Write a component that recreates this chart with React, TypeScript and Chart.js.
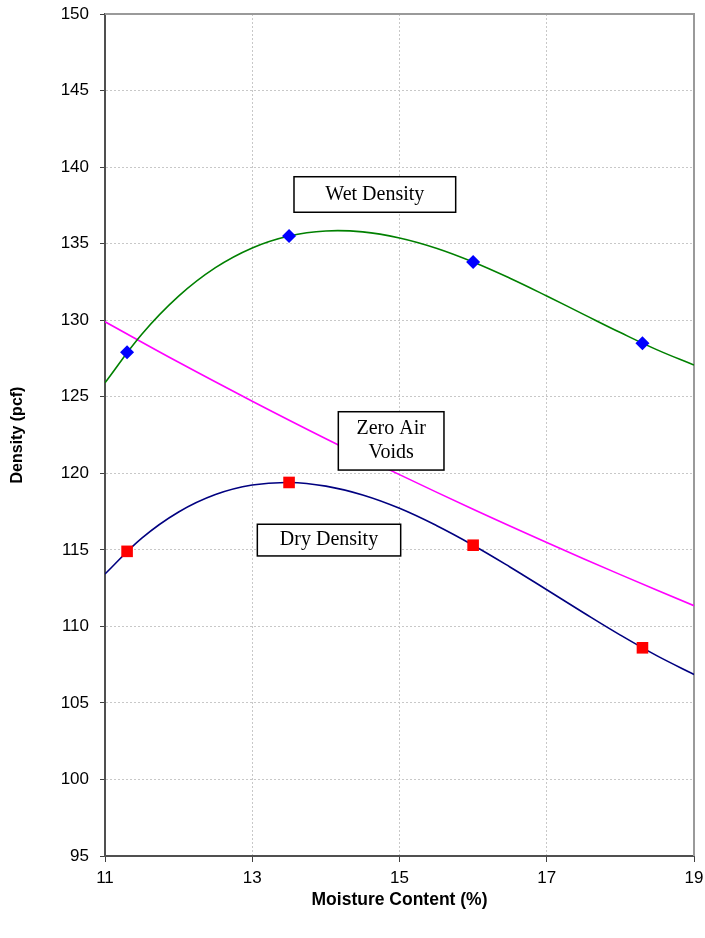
import React, { useEffect, useRef } from "react";
import { Chart, registerables } from "chart.js";

Chart.register(...registerables);

// Measured points
const moisture = [11.3, 13.5, 16.0, 18.3];
const wetDensity = [127.9, 135.5, 133.8, 128.5];
const dryDensity = [114.9, 119.4, 115.3, 108.6];

// Fitted curves
const curveMoisture = [11, 11.5, 12, 12.5, 13, 13.5, 14, 14.5, 15, 15.5, 16, 16.5, 17, 17.5, 18, 18.5, 19];
const wetCurve = [125.91, 129.08, 131.57, 133.43, 134.72, 135.5, 135.83, 135.77, 135.37, 134.7, 133.8, 132.74, 131.58, 130.38, 129.19, 128.06, 127.07];
const dryCurve = [113.42, 115.76, 117.47, 118.61, 119.23, 119.4, 119.16, 118.58, 117.71, 116.59, 115.3, 113.88, 112.39, 110.89, 109.43, 108.07, 106.86];

// Zero air voids line
const zavMoisture = [11, 12, 13, 14, 15, 16, 17, 18, 19];
const zavDensity = [129.9, 127.25, 124.71, 122.26, 119.91, 117.65, 115.48, 113.38, 111.35];

// Axis settings
const xMin = 11, xMax = 19, xStep = 2;
const yMin = 95, yMax = 150, yStep = 5;
const xTitle = "Moisture Content (%)";
const yTitle = "Density (pcf)";

// Text box labels (data coordinates)
const labelTexts = [["Wet Density"], ["Zero Air", "Voids"], ["Dry Density"]];
const labelBoxes = [
  { x1: 13.567, x2: 15.763, y1: 139.37, y2: 137.05 },
  { x1: 14.169, x2: 15.604, y1: 124.02, y2: 120.21 },
  { x1: 13.069, x2: 15.016, y1: 116.67, y2: 114.6 },
];

const toXY = (xs: number[], ys: number[]) => xs.map((x, i) => ({ x, y: ys[i] }));

const framePlugin = {
  id: "frame",
  beforeDatasetsDraw(chart: any) {
    const { ctx, chartArea } = chart;
    ctx.save();
    ctx.strokeStyle = "#9a9a9a";
    ctx.lineWidth = 2;
    ctx.beginPath();
    ctx.moveTo(chartArea.left, chartArea.top);
    ctx.lineTo(chartArea.right, chartArea.top);
    ctx.lineTo(chartArea.right, chartArea.bottom);
    ctx.stroke();
    ctx.restore();
  },
};

const labelPlugin = {
  id: "textBoxes",
  afterDatasetsDraw(chart: any) {
    const { ctx, scales } = chart;
    const xs = scales.x, ys = scales.y;
    ctx.save();
    labelBoxes.forEach((b, i) => {
      const l = xs.getPixelForValue(b.x1);
      const r = xs.getPixelForValue(b.x2);
      const t = ys.getPixelForValue(b.y1);
      const bt = ys.getPixelForValue(b.y2);
      ctx.fillStyle = "#ffffff";
      ctx.fillRect(l, t, r - l, bt - t);
      ctx.strokeStyle = "#000000";
      ctx.lineWidth = 1.5;
      ctx.strokeRect(l, t, r - l, bt - t);
      const lines = labelTexts[i];
      ctx.fillStyle = "#000000";
      ctx.font = '20px "Liberation Serif", "Times New Roman", serif';
      ctx.textAlign = "center";
      ctx.textBaseline = "middle";
      const lh = 24;
      const cx = (l + r) / 2;
      const cy = (t + bt) / 2;
      lines.forEach((s, j) => {
        ctx.fillText(s, cx, cy + (j - (lines.length - 1) / 2) * lh);
      });
    });
    ctx.restore();
  },
};

export default function App() {
  const ref = useRef<HTMLCanvasElement>(null);
  useEffect(() => {
    document.body.style.margin = "0";
    const canvas = ref.current!;
    const tickFont = { family: '"Liberation Sans", Arial, sans-serif', size: 17 };
    const chart = new Chart(canvas, {
      type: "scatter",
      data: {
        datasets: [
          {
            label: "Wet Density points",
            data: toXY(moisture, wetDensity),
            showLine: false,
            pointStyle: "rectRot",
            pointRadius: 7,
            backgroundColor: "#0000ff",
            borderColor: "#0000ff",
            borderWidth: 0,
          },
          {
            label: "Dry Density points",
            data: toXY(moisture, dryDensity),
            showLine: false,
            pointStyle: "rect",
            pointRadius: 8.2,
            backgroundColor: "#ff0000",
            borderColor: "#ff0000",
            borderWidth: 0,
          },
          {
            label: "Wet Density",
            data: toXY(curveMoisture, wetCurve),
            showLine: true,
            pointRadius: 0,
            borderColor: "#008000",
            borderWidth: 1.6,
            tension: 0.4,
          },
          {
            label: "Dry Density",
            data: toXY(curveMoisture, dryCurve),
            showLine: true,
            pointRadius: 0,
            borderColor: "#000080",
            borderWidth: 1.6,
            tension: 0.4,
          },
          {
            label: "Zero Air Voids",
            data: toXY(zavMoisture, zavDensity),
            showLine: true,
            pointRadius: 0,
            borderColor: "#ff00ff",
            borderWidth: 1.6,
            tension: 0.4,
          },
        ],
      },
      options: {
        responsive: false,
        animation: false,
        devicePixelRatio: 1,
        layout: { padding: { top: 14, right: 11, left: 0, bottom: 0 } },
        plugins: { legend: { display: false }, tooltip: { enabled: false } },
        scales: {
          x: {
            type: "linear",
            min: xMin,
            max: xMax,
            ticks: { stepSize: xStep, color: "#000", font: tickFont, padding: 6 },
            grid: { color: "#c8c8c8", tickColor: "#404040", tickLength: 6, lineWidth: 1 },
            border: { color: "#505050", width: 2, dash: [2, 2] },
            title: {
              display: true,
              text: xTitle,
              color: "#000",
              font: { family: '"Liberation Sans", Arial, sans-serif', size: 17.5, weight: "bold" },
              padding: { top: 0, bottom: 27 },
            },
            afterFit: (s: any) => {
              s.height = 82;
              s.paddingLeft = 0;
              s.paddingRight = 0;
            },
          },
          y: {
            type: "linear",
            min: yMin,
            max: yMax,
            ticks: { stepSize: yStep, color: "#000", font: tickFont, padding: 11 },
            grid: { color: "#c8c8c8", tickColor: "#404040", tickLength: 5, lineWidth: 1 },
            border: { color: "#505050", width: 2, dash: [2, 2] },
            title: {
              display: true,
              text: yTitle,
              color: "#000",
              font: { family: '"Liberation Sans", Arial, sans-serif', size: 16, weight: "bold" },
              padding: { top: 7.5, bottom: 0 },
            },
            afterFit: (s: any) => {
              s.width = 105;
              s.paddingTop = 0;
              s.paddingBottom = 0;
            },
          },
        },
      },
      plugins: [framePlugin, labelPlugin],
    });
    return () => chart.destroy();
  }, []);
  return (
    <canvas
      ref={ref}
      width={705}
      height={938}
      style={{ display: "block", position: "absolute", left: 0, top: 0 }}
    />
  );
}
